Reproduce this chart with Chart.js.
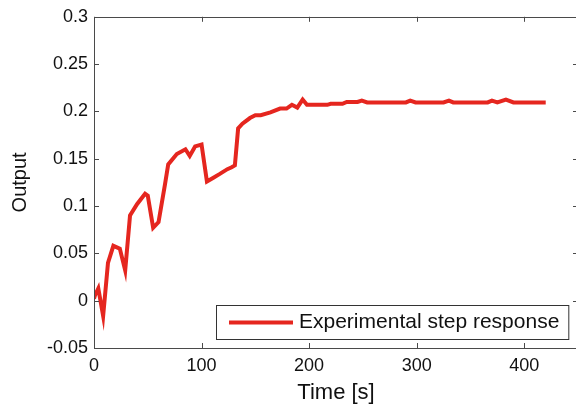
<!DOCTYPE html>
<html>
<head>
<meta charset="utf-8">
<script src="https://cdn.jsdelivr.net/npm/chart.js@4/dist/chart.umd.min.js"></script>
<style>
  html, body { margin: 0; padding: 0; background: #fff; overflow: hidden; width: 576px; height: 404px; }
  #wrap { width: 582px; height: 404px; }
</style>
</head>
<body>
<div id="wrap"><canvas id="c" width="582" height="404"></canvas></div>
<script>
// ---- data ----
const seriesLabel = "Experimental step response";
const timeS = [0, 1, 4, 8.5, 13, 18, 24, 29, 33.5, 40, 47.5, 50, 55, 60, 66, 69, 77, 85, 89, 94, 100,
  105, 111, 117, 124, 128, 131, 134, 138, 145, 150, 155, 164, 173, 179, 184, 189, 194, 198,
  217, 220, 231, 235, 245, 249, 254, 290, 294, 299, 325, 330, 334, 366, 370, 375, 383, 390, 420];
const output = [0.002, 0.006, 0.013, -0.016, 0.040, 0.058, 0.055, 0.032, 0.090, 0.102, 0.113, 0.111, 0.077, 0.083, 0.123, 0.144, 0.155, 0.160, 0.153, 0.163, 0.165,
  0.126, 0.130, 0.134, 0.139, 0.141, 0.143, 0.182, 0.187, 0.193, 0.196, 0.196, 0.199, 0.203, 0.203, 0.207, 0.204, 0.2125, 0.207,
  0.207, 0.208, 0.208, 0.210, 0.210, 0.2115, 0.2095, 0.2095, 0.2115, 0.2095, 0.2095, 0.2115, 0.2095, 0.2095, 0.2115, 0.2095, 0.2125, 0.2095, 0.2095];
const xTickValues = [0, 100, 200, 300, 400];
const yTickValues = [-0.05, 0, 0.05, 0.1, 0.15, 0.2, 0.25, 0.3];
const yTickLabels = ["-0.05", "0", "0.05", "0.1", "0.15", "0.2", "0.25", "0.3"];
const xTitle = "Time [s]";
const yTitle = "Output";

const FONT = "'Liberation Sans', Arial, Helvetica, sans-serif";
const AXIS_COLOR = "#4a4a4a";
const LINE_COLOR = "#e5261f";

const points = timeS.map((t, i) => ({ x: t, y: output[i] }));

// box, inward ticks (MATLAB style) and in-axes legend
const matlabAxes = {
  id: 'matlabAxes',
  afterDraw(chart) {
    const ctx = chart.ctx;
    const a = chart.chartArea;
    const xs = chart.scales.x, ys = chart.scales.y;
    ctx.save();
    ctx.strokeStyle = AXIS_COLOR;
    ctx.lineWidth = 1;
    ctx.beginPath();
    ctx.rect(Math.round(a.left) + 0.5, Math.round(a.top) + 0.5, Math.round(a.right - a.left), Math.round(a.bottom - a.top));
    ctx.stroke();
    const tl = 5;
    ctx.beginPath();
    xTickValues.forEach(v => {
      const px = Math.round(xs.getPixelForValue(v)) + 0.5;
      ctx.moveTo(px, a.bottom); ctx.lineTo(px, a.bottom - tl);
      ctx.moveTo(px, a.top); ctx.lineTo(px, a.top + tl);
    });
    yTickValues.forEach(v => {
      const py = Math.round(ys.getPixelForValue(v)) + 0.5;
      ctx.moveTo(a.left, py); ctx.lineTo(a.left + tl, py);
      ctx.moveTo(a.right, py); ctx.lineTo(a.right - tl, py);
    });
    ctx.stroke();

    // legend inside lower-right corner
    const ds = chart.data.datasets[0];
    ctx.font = "21px " + FONT;
    const tw = ctx.measureText(ds.label).width;
    const boxH = 34;
    const boxW = 13 + 64 + 6 + tw + 9;
    const bx = Math.round(Math.min(a.right, 576) - 8 - boxW);
    const by = Math.round(a.bottom - 9 - boxH);
    ctx.fillStyle = '#fff';
    ctx.fillRect(bx, by, boxW, boxH);
    ctx.strokeStyle = '#333';
    ctx.strokeRect(bx + 0.5, by + 0.5, boxW, boxH);
    const cy = by + boxH / 2 + 0.5;
    ctx.strokeStyle = ds.borderColor;
    ctx.lineWidth = ds.borderWidth;
    ctx.beginPath();
    ctx.moveTo(bx + 13, cy); ctx.lineTo(bx + 77, cy);
    ctx.stroke();
    ctx.fillStyle = '#111';
    ctx.textBaseline = 'middle';
    ctx.textAlign = 'left';
    ctx.fillText(ds.label, bx + 83, cy);
    ctx.restore();
  }
};

new Chart(document.getElementById('c'), {
  type: 'line',
  data: {
    datasets: [{
      label: seriesLabel,
      data: points,
      borderColor: LINE_COLOR,
      backgroundColor: LINE_COLOR,
      borderWidth: 4,
      pointRadius: 0,
      tension: 0,
      fill: false
    }]
  },
  options: {
    responsive: false,
    animation: false,
    layout: { padding: { top: 15, right: 4, left: 0, bottom: 0 } },
    plugins: { legend: { display: false }, tooltip: { enabled: false } },
    scales: {
      x: {
        type: 'linear',
        min: 0, max: 450,
        afterBuildTicks(scale) { scale.ticks = xTickValues.map(v => ({ value: v })); },
        afterFit(scale) { scale.height = 56; },
        grid: { display: false, drawTicks: false },
        border: { display: false },
        ticks: { color: '#111', font: { family: FONT, size: 18 }, padding: 7, maxRotation: 0 },
        title: { display: true, text: xTitle, color: '#111', font: { family: FONT, size: 22, lineHeight: 1.0 }, padding: { top: 0, bottom: 0 } }
      },
      y: {
        type: 'linear',
        min: -0.05, max: 0.3,
        afterBuildTicks(scale) { scale.ticks = yTickValues.map(v => ({ value: v })); },
        afterFit(scale) { scale.width = 94; },
        grid: { display: false, drawTicks: false },
        border: { display: false },
        ticks: {
          color: '#111', font: { family: FONT, size: 18 }, padding: 6,
          callback: (v) => { const i = yTickValues.findIndex(t => Math.abs(t - v) < 1e-9); return i >= 0 ? yTickLabels[i] : ''; }
        },
        title: { display: true, text: yTitle, color: '#111', font: { family: FONT, size: 20 }, padding: { top: 8, bottom: 0 } }
      }
    }
  },
  plugins: [matlabAxes]
});
</script>
</body>
</html>
